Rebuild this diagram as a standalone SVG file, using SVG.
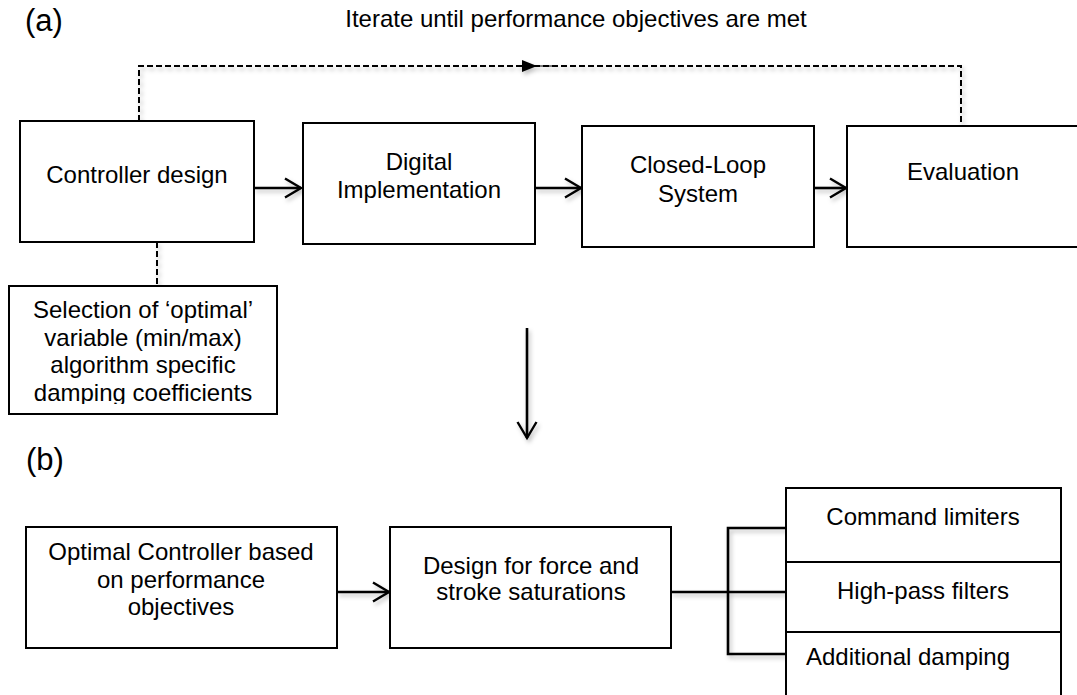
<svg xmlns="http://www.w3.org/2000/svg" width="1077" height="695" viewBox="0 0 1077 695">
<defs>
<marker id="open" viewBox="0 0 20 20" refX="17" refY="10" markerWidth="20" markerHeight="20" markerUnits="userSpaceOnUse" orient="auto" overflow="visible">
<path d="M1,0.5 L17,10 L1,19.5" fill="none" stroke="#000" stroke-width="2.4"/>
</marker>
<marker id="tri" viewBox="0 0 16 14" refX="1" refY="7" markerWidth="16" markerHeight="14" markerUnits="userSpaceOnUse" orient="auto">
<path d="M1,7 L16,1 L16,13 Z" fill="#000"/>
</marker>
<filter id="sh" x="-10%" y="-50%" width="130%" height="250%">
<feDropShadow dx="2" dy="3" stdDeviation="2" flood-color="#000" flood-opacity="0.25"/>
</filter>
<clipPath id="selclip"><rect x="9" y="286" width="268" height="118"/></clipPath>
</defs>
<style>
text{font-family:"Liberation Sans",Arial,sans-serif;font-size:24px;fill:#000;text-anchor:middle}
.lab{font-size:31px;text-anchor:start}
.box{fill:#fff;stroke:#000;stroke-width:2}
.con{fill:none;stroke:#000;stroke-width:2.6}
.dash{fill:none;stroke:#000;stroke-width:2;stroke-dasharray:6 3}
</style>
<rect width="1077" height="695" fill="#fff"/>
<text class="lab" x="25" y="31">(a)</text>
<text x="576" y="27">Iterate until performance objectives are met</text>
<text class="lab" x="26" y="470">(b)</text>
<g id="connectors" filter="url(#sh)">
<path class="dash" d="M139,121 V66 H961 V126"/>
<path d="M552,66 L537,66" fill="none" stroke="#000" stroke-width="1" marker-end="url(#tri)"/>
<path class="dash" d="M157,242 V286"/>
<path class="con" d="M254,188 H301" marker-end="url(#open)"/>
<path class="con" d="M535,188 H581" marker-end="url(#open)"/>
<path class="con" d="M814,188 H846" marker-end="url(#open)"/>
<path class="con" d="M527,328 V438" marker-end="url(#open)"/>
<path class="con" d="M337,592 H389" marker-end="url(#open)"/>
<path class="con" d="M671,592 H786 M786,528 H728 V654 H786"/>
</g>
<g id="controller-design">
<rect class="box" x="20" y="121" width="234" height="121"/>
<text x="137" y="183">Controller design</text>
</g>
<g id="digital-implementation">
<rect class="box" x="303" y="123" width="232" height="121"/>
<text x="419" y="170">Digital</text>
<text x="419" y="198">Implementation</text>
</g>
<g id="closed-loop-system">
<rect class="box" x="582" y="126" width="232" height="121"/>
<text x="698" y="173">Closed-Loop</text>
<text x="698" y="202">System</text>
</g>
<g id="evaluation">
<rect class="box" x="847" y="126" width="250" height="121"/>
<text x="963" y="180">Evaluation</text>
</g>
<g id="selection">
<rect class="box" x="9" y="286" width="268" height="128"/>
<g clip-path="url(#selclip)">
<text x="143" y="318">Selection of ‘optimal’</text>
<text x="143" y="346">variable (min/max)</text>
<text x="143" y="373">algorithm specific</text>
<text x="143" y="401">damping coefficients</text>
</g>
</g>
<g id="optimal-controller">
<rect class="box" x="26" y="527" width="311" height="121"/>
<text x="181" y="560">Optimal Controller based</text>
<text x="181" y="588">on performance</text>
<text x="181" y="615">objectives</text>
</g>
<g id="design-saturations">
<rect class="box" x="390" y="527" width="281" height="121"/>
<text x="531" y="574">Design for force and</text>
<text x="531" y="600">stroke saturations</text>
</g>
<g id="command-limiters">
<rect class="box" x="786" y="488" width="275" height="74"/>
<text x="923" y="525">Command limiters</text>
</g>
<g id="high-pass-filters">
<rect class="box" x="786" y="562" width="275" height="70"/>
<text x="923" y="599">High-pass filters</text>
</g>
<g id="additional-damping">
<rect class="box" x="786" y="632" width="275" height="80"/>
<text x="908" y="665">Additional damping</text>
</g>
</svg>
